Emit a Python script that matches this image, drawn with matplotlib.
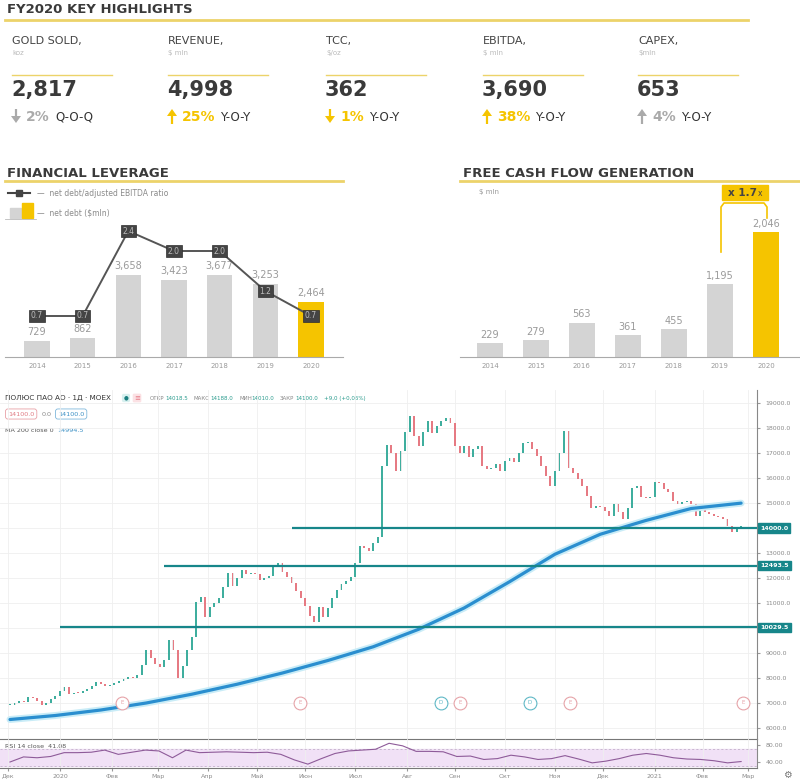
import numpy as np
import pandas as pd
import matplotlib
matplotlib.use("Agg")
import matplotlib.pyplot as plt
import matplotlib.transforms as mtransforms
from matplotlib.patches import FancyArrow, Rectangle

plt.rcParams['font.family'] = ['DejaVu Sans']

# ---------------- data ----------------
kpi_names = ['GOLD SOLD,', 'REVENUE,', 'TCC,', 'EBITDA,', 'CAPEX,']
kpi_units = ['koz', '$ mln', '$/oz', '$ mln', '$mln']
kpi_values = ['2,817', '4,998', '362', '3,690', '653']
kpi_change = [-2, 25, -1, 38, 4]
kpi_basis = ['Q-O-Q', 'Y-O-Y', 'Y-O-Y', 'Y-O-Y', 'Y-O-Y']

years = ['2014', '2015', '2016', '2017', '2018', '2019', '2020']
net_debt = [729, 862, 3658, 3423, 3677, 3253, 2464]
nd_ebitda = [0.7, 0.7, 2.4, 2.0, 2.0, 1.2, 0.7]
fcf = [229, 279, 563, 361, 455, 1195, 2046]

# daily chart, one close every 2 sessions from 2019-12-02
closes = [
    6920, 7000, 7100, 7050, 7240, 7200, 7100, 6920, 7000, 7150,
    7300, 7500, 7640, 7360, 7420, 7400, 7480, 7560, 7700, 7840,
    7760, 7700, 7720, 7800, 7900, 7980, 8040, 8000, 8120, 8520,
    9120, 8800, 8560, 8440, 8720, 9520, 9120, 8000, 8500, 9120,
    9640, 11040, 11240, 10440, 10840, 11000, 11200, 11640, 12200, 11700,
    12000, 12320, 12150, 12200, 12150, 11920, 12000, 12100, 12440, 12600,
    12250, 12040, 11800, 11500, 11200, 10900, 10500, 10250, 10840, 10440,
    10800, 11200, 11520, 11750, 11900, 12040, 12600, 13300, 13200, 13100,
    13400, 13640, 16500, 17320, 17000, 16300, 17100, 17840, 18500, 17700,
    17300, 17840, 18300, 17800, 18100, 18300, 18400, 18200, 17300, 17000,
    17300, 16850, 17150, 17300, 16500, 16350, 16400, 16550, 16300, 16700,
    16800, 16650, 17000, 17400, 17440, 17150, 16900, 16500, 16100, 15700,
    16300, 17000, 17900, 16400, 16200, 15950, 15700, 15300, 14800, 14900,
    14850, 14700, 14500, 14950, 14650, 14350, 14800, 15600, 15700, 15250,
    15200, 15250, 15850, 15800, 15550, 15450, 15100, 14950, 15050, 15100,
    14950, 14500, 14800, 14650, 14550, 14500, 14450, 14350, 14100, 13850,
    14000, 14100,
]
ma_idx = [0, 10, 20, 30, 40, 50, 60, 70, 80, 90, 100, 110, 120, 130, 140, 150, 161]
ma200 = [6340, 6500, 6720, 7000, 7350, 7750, 8200, 8700, 9250, 9950,
         10800, 11850, 12950, 13750, 14300, 14780, 14994.5]
rsi = [40, 52, 50, 53, 62, 62, 63, 68, 58, 63, 68, 66, 50, 68, 62, 63, 64, 63,
       62, 63, 58, 45, 35, 48, 60, 66, 68, 70, 84, 78, 65, 65, 64, 53, 54, 46,
       48, 56, 52, 46, 48, 55, 47, 38, 42, 48, 56, 60, 56, 50, 47, 46, 43, 38, 41.08]
levels = [14000.0, 12493.5, 10029.5]
level_start = [62, 34, 11]
event_idx = [24.7, 63.9, 94.9, 99.1, 114.5, 123.3, 161.5]
event_kind = ['E', 'E', 'D', 'E', 'D', 'E', 'E']
month_starts = ['2019-12-01', '2020-01-01', '2020-02-01', '2020-03-01', '2020-04-01',
                '2020-05-01', '2020-06-01', '2020-07-01', '2020-08-01', '2020-09-01',
                '2020-10-01', '2020-11-01', '2020-12-01', '2021-01-01', '2021-02-01',
                '2021-03-01']
month_labels = ['Дек', '2020', 'Фев', 'Мар', 'Апр', 'Май', 'Июн', 'Июл', 'Авг',
                'Сен', 'Окт', 'Ноя', 'Дек', '2021', 'Фев', 'Мар']

# ---------------- styles ----------------
YEL = '#f5c400'
YEL_LINE = '#ecd36a'
GREY_BAR = '#d4d4d4'
DARK = '#3a3a3a'
TEAL = '#17868a'
UP = '#3fae9e'
DOWN = '#e67a83'
W, H = 800, 784

fig = plt.figure(figsize=(8, 7.84), dpi=100)
fig.patch.set_facecolor('white')


def px_axes(x0, y0, x1, y1):
    a = fig.add_axes([x0 / W, 1 - y1 / H, (x1 - x0) / W, (y1 - y0) / H])
    a.patch.set_alpha(0)
    return a


# overlay in pixel coordinates for the infographic text
ov = fig.add_axes([0, 0, 1, 1])
ov.set_xlim(0, W)
ov.set_ylim(H, 0)
ov.axis('off')

# ---------- key highlights ----------
ov.text(7, 9, 'FY2020 KEY HIGHLIGHTS', fontsize=9.5, fontweight='bold', color=DARK, va='center')
ov.plot([5, 748], [20, 20], color=YEL_LINE, lw=2)

col_x = [12, 168, 326, 483, 638]
arrow_colors = ['#aaaaaa', YEL, YEL, YEL, '#aaaaaa']
for i, x in enumerate(col_x):
    ov.text(x, 41, kpi_names[i], fontsize=8, color='#444444', va='center')
    ov.text(x, 53, kpi_units[i], fontsize=5, color='#bbbbbb', va='center')
    ov.plot([x, x + 100], [75, 75], color=YEL_LINE, lw=1)
    ov.text(x - 1, 90, kpi_values[i], fontsize=15, fontweight='bold', color=DARK, va='center')
    c = arrow_colors[i]
    if kpi_change[i] < 0:
        ov.add_patch(FancyArrow(x + 4, 109, 0, 14, width=2.2, head_width=10, head_length=7,
                                length_includes_head=True, color=c, lw=0))
    else:
        ov.add_patch(FancyArrow(x + 4, 124, 0, -15, width=2.2, head_width=10, head_length=7,
                                length_includes_head=True, color=c, lw=0))
    pct = f'{abs(kpi_change[i])}%'
    ov.text(x + 14, 117, pct, fontsize=10, fontweight='bold', color=c, va='center')
    ov.text(x + 24 + 9.5 * len(pct), 117, kpi_basis[i], fontsize=8.5, color='#333333', va='center')

# ---------- financial leverage ----------
ov.text(7, 173, 'FINANCIAL LEVERAGE', fontsize=9.5, fontweight='bold', color=DARK, va='center')
ov.plot([5, 343], [181, 181], color=YEL_LINE, lw=2)
ov.plot([8, 30], [193, 193], color='#444444', lw=1.5)
ov.plot([19], [193], marker='s', ms=5, color='#444444')
ov.text(37, 193.5, '—  net debt/adjusted EBITDA ratio', fontsize=5.5, color='#8a8a8a', va='center')
ov.add_patch(Rectangle((10, 208), 11, 10, color=GREY_BAR))
ov.add_patch(Rectangle((22, 203), 11, 15, color=YEL))
ov.plot([5, 36], [219, 219], color='#bbbbbb', lw=0.6)
ov.text(37, 213, '—  net debt ($mln)', fontsize=5.5, color='#8a8a8a', va='center')

ax_l = px_axes(5, 190, 343, 357)
pos = np.arange(len(years))
ax_l.bar(pos, net_debt, width=0.55, color=[GREY_BAR] * 6 + [YEL])
for p, v in zip(pos, net_debt):
    ax_l.text(p, v + 170, f'{v:,}', ha='center', va='bottom', fontsize=7, color='#9a9a9a')
ax_l.set_xlim(-0.7, 6.7)
ax_l.set_ylim(0, 7450)
ax_l.set_yticks([])
ax_l.set_xticks(pos)
ax_l.set_xticklabels(years, fontsize=5, color='#999999')
ax_l.tick_params(axis='x', length=0, pad=4)
for s in ['top', 'left', 'right']:
    ax_l.spines[s].set_visible(False)
ax_l.spines['bottom'].set_color('#aaaaaa')

ax_l2 = ax_l.twinx()
ax_l2.patch.set_alpha(0)
ax_l2.plot(pos, nd_ebitda, color='#555555', lw=1.4)
for p, v in zip(pos, nd_ebitda):
    ax_l2.text(p, v, f'{v:.1f}', ha='center', va='center', fontsize=5.5, color='#bdbdbd',
               bbox=dict(boxstyle='square,pad=0.2', fc='#444444', ec='#2e2e2e', lw=0.5))
ax_l2.set_ylim(-0.12, 3.22)
ax_l2.axis('off')

# ---------- free cash flow ----------
ov.text(463, 173, 'FREE CASH FLOW GENERATION', fontsize=9.5, fontweight='bold', color=DARK, va='center')
ov.plot([460, 800], [181, 181], color=YEL_LINE, lw=2)
ov.text(479, 192, '$ mln', fontsize=5, color='#999999', va='center')

ax_f = px_axes(460, 190, 800, 357)
ax_f.bar(pos, fcf, width=0.55, color=[GREY_BAR] * 6 + [YEL])
for p, v in zip(pos, fcf):
    ax_f.text(p, v + 55, f'{v:,}', ha='center', va='bottom', fontsize=7, color='#9a9a9a')
ax_f.set_xlim(-0.65, 6.74)
ax_f.set_ylim(0, 2733)
ax_f.set_yticks([])
ax_f.set_xticks(pos)
ax_f.set_xticklabels(years, fontsize=5, color='#999999')
ax_f.tick_params(axis='x', length=0, pad=4)
for s in ['top', 'left', 'right']:
    ax_f.spines[s].set_visible(False)
ax_f.spines['bottom'].set_color('#aaaaaa')

ov.plot([721, 721, 724, 764, 767, 767], [252, 207, 203, 203, 207, 218], color=YEL, lw=1.2)
ov.add_patch(Rectangle((722, 185), 46, 15, color=YEL))
ov.text(743, 192.5, 'x 1.7', fontsize=7.5, fontweight='bold', color='#444444', ha='center', va='center')
ov.text(760, 193.5, 'x', fontsize=5.5, color='#444444', ha='center', va='center')

# ---------- candlestick chart ----------
n = len(closes)
idx = np.arange(n)
opens = np.array([closes[0]] + closes[:-1], dtype=float)
cl = np.array(closes, dtype=float)
start = np.datetime64('2019-12-02')
month_pos = [np.busday_count(start, np.datetime64(m)) / 2 for m in month_starts]

ax_c = px_axes(0, 390, 757, 739)
ax_r = px_axes(0, 739, 757, 768)

ax_c.set_xlim(-2.2, 164.5)
ax_c.set_ylim(5560, 19520)
ax_c.set_xticks(month_pos)
ax_c.set_xticklabels([])
price_ticks = np.arange(6000, 19001, 1000)
ax_c.set_yticks(price_ticks)
ax_c.yaxis.tick_right()
ax_c.set_yticklabels(['' if v in (10000, 14000) else f'{v:.1f}' for v in price_ticks],
                     fontsize=4.5, color='#8a8a8a')
ax_c.tick_params(axis='x', length=0)
ax_c.tick_params(axis='y', length=2, color='#999999', pad=4)
ax_c.grid(True, color='#efefef', lw=0.6)
ax_c.set_axisbelow(True)
for s in ['top', 'left']:
    ax_c.spines[s].set_visible(False)
ax_c.spines['right'].set_color('#888888')
ax_c.spines['bottom'].set_color('#777777')

up = cl >= opens
body = np.where(np.abs(cl - opens) < 40, 40, cl - opens)
ax_c.vlines(idx, np.minimum(opens, cl), np.maximum(opens, cl), color='#888888', lw=0.3, zorder=2)
ax_c.bar(idx[up], body[up], bottom=opens[up], width=0.42, color=UP, zorder=3)
ax_c.bar(idx[~up], body[~up], bottom=opens[~up], width=0.42, color=DOWN, zorder=3)

ax_c.plot(ma_idx, ma200, color='#c9ecf7', lw=5, solid_capstyle='round', zorder=4)
ax_c.plot(ma_idx, ma200, color='#2a8ecf', lw=2.3, solid_capstyle='round', zorder=5)

blend = mtransforms.blended_transform_factory(ax_c.transAxes, ax_c.transData)
for lv, st in zip(levels, level_start):
    ax_c.hlines(lv, st, 164.5, color=TEAL, lw=1.6, zorder=6)
    ax_c.text(1.004, lv, f'{lv:.1f}', transform=blend, fontsize=4.5, color='white',
              va='center', ha='left', fontweight='bold', clip_on=False,
              bbox=dict(boxstyle='square,pad=0.35', fc=TEAL, ec=TEAL))

for ex, kind in zip(event_idx, event_kind):
    ec = '#e6a3a8' if kind == 'E' else '#5fb8c6'
    ax_c.scatter([ex], [7000], s=85, facecolor='white', edgecolor=ec, lw=0.8, zorder=7)
    ax_c.text(ex, 7000, kind, fontsize=4, color=ec, ha='center', va='center', zorder=8)

# header texts
ov.text(5, 398, 'ПОЛЮС ПАО АО · 1Д · MOEX', fontsize=5.2, color='#333333', va='center')
ov.text(126, 398, '●', fontsize=4, color='#1b7f80', ha='center', va='center',
        bbox=dict(boxstyle='round,pad=0.3', fc='#d8f0ef', ec='none'))
ov.text(137, 398, '≡', fontsize=5, color='#e57a85', ha='center', va='center',
        bbox=dict(boxstyle='round,pad=0.2', fc='#fbe1e4', ec='none'))
hdr = [(150, 'ОТКР', '#888888'), (165, '14018.5', '#2b9c8e'),
       (194, 'МАКС', '#888888'), (210, '14188.0', '#2b9c8e'),
       (239, 'МИН', '#888888'), (251, '14010.0', '#2b9c8e'),
       (280, 'ЗАКР', '#888888'), (295, '14100.0', '#2b9c8e'),
       (324, '+9,0 (+0,06%)', '#2b9c8e')]
for x, s, c in hdr:
    ov.text(x, 398, s, fontsize=4.0, color=c, va='center')
ov.text(8, 414, '14100.0', fontsize=4.6, color='#e07a82', va='center',
        bbox=dict(boxstyle='round,pad=0.4', fc='white', ec='#e8a0a6', lw=0.6))
ov.text(42, 414, '0.0', fontsize=4.6, color='#888888', va='center')
ov.text(58, 414, '14100.0', fontsize=4.6, color='#3a8fc4', va='center',
        bbox=dict(boxstyle='round,pad=0.4', fc='white', ec='#7fb8dc', lw=0.6))
ov.text(5, 430, 'MA 200 close 0', fontsize=4.6, color='#555555', va='center')
ov.text(57, 430, '14994.5', fontsize=4.6, color='#3a8fc4', va='center')

# ---------- RSI ----------
rsi_pos = np.linspace(0, n - 1, len(rsi))
ax_r.set_xlim(-2.2, 164.5)
ax_r.set_ylim(25.9, 94.1)
ax_r.axhspan(30, 70, color='#f1e1f6', zorder=0)
ax_r.axhline(70, color='#b9a7c2', lw=0.5, ls=(0, (3, 3)))
ax_r.axhline(30, color='#b9a7c2', lw=0.5, ls=(0, (3, 3)))
ax_r.plot(rsi_pos, rsi, color='#8e5b99', lw=0.8, zorder=3)
ax_r.set_yticks([40, 80])
ax_r.yaxis.tick_right()
ax_r.set_yticklabels(['40.00', '80.00'], fontsize=4.5, color='#8a8a8a')
ax_r.set_xticks(month_pos)
ax_r.set_xticklabels(month_labels, fontsize=4.5, color='#8a8a8a')
ax_r.tick_params(axis='x', length=2, color='#999999', pad=2)
ax_r.tick_params(axis='y', length=2, color='#999999', pad=4)
ax_r.grid(True, axis='x', color='#efefef', lw=0.6)
for s in ['top', 'left']:
    ax_r.spines[s].set_visible(False)
ax_r.spines['right'].set_color('#888888')
ax_r.spines['bottom'].set_color('#777777')
ov.text(5, 746, 'RSI 14 close  41.08', fontsize=4.6, color='#555555', va='center')
ov.text(787, 775, '⚙', fontsize=7, color='#777777', ha='center', va='center')

fig.savefig('out.png', dpi=100, facecolor='white')
